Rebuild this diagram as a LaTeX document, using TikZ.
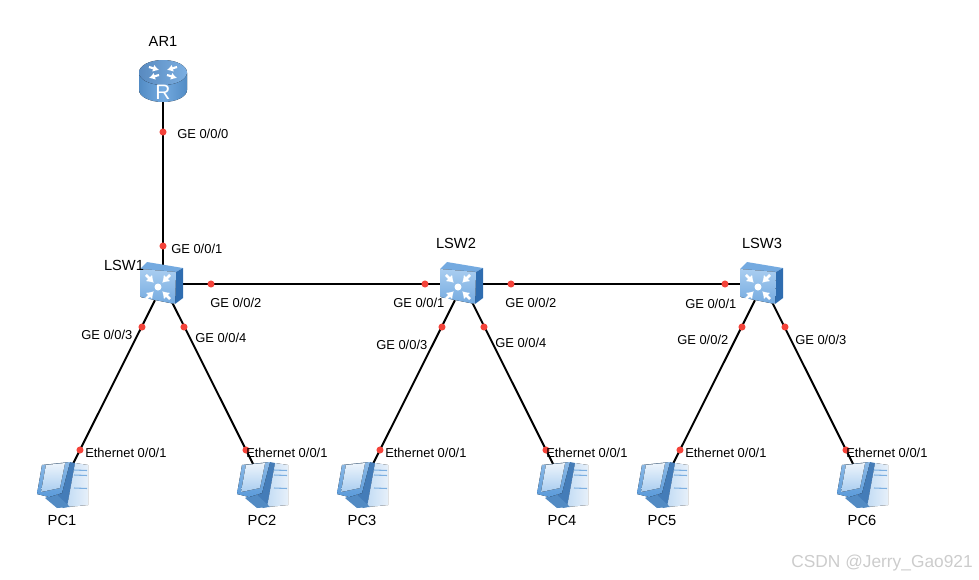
\documentclass[tikz,border=0pt]{standalone}
\usepackage{fontspec}
\setmainfont{Liberation Sans}
\usetikzlibrary{arrows.meta}
\definecolor{portred}{HTML}{F4433A}
\definecolor{iconblue}{HTML}{5B9BDA}
\definecolor{icondark}{HTML}{2F6DB0}
\definecolor{iconlight}{HTML}{A9CDF0}
\tikzset{
    link/.style={line width=1.5pt, black},
    port/.style={circle, fill=portred, inner sep=0pt, minimum size=5.3pt},
    portlabel/.style={anchor=west, inner sep=0pt, font=\fontsize{9.7}{11}\selectfont},
    devlabel/.style={inner sep=0pt, font=\fontsize{11}{12}\selectfont},
    routerbox/.style={inner sep=0pt, minimum width=30pt, minimum height=24pt},
    switchbox/.style={inner sep=0pt, minimum width=24pt, minimum height=24pt},
    pcbox/.style={inner sep=0pt, minimum width=20pt, minimum height=28pt},
    routericon/.pic={
        % body and top
        \fill[left color=iconblue!90!black, right color=iconblue!90!black, middle color=iconblue!85!white]
            (-24,-9) -- (-24,8) arc[start angle=180, end angle=0, x radius=24, y radius=12] -- (24,-9) -- cycle;
        \fill[left color=icondark!80, right color=iconblue!80] (0,-9.5) ellipse[x radius=24, y radius=12.5];
        % arrows on top
        \foreach \a/\b/\c/\d in {-14/-15/-4/-12, 4/-7/14/-4, 14/-15/4/-12, -4/-7/-14/-4} {
            \draw[white, line width=1.6pt, -{Latex[length=4.5pt,width=5.5pt]}] (\a,\b) -- (\c,\d);
        }
        \node[white, inner sep=0pt, font=\fontsize{15.7}{16}\selectfont] (-rtext) at (0,10.5) {R};
    },
    switchicon/.pic={
        \fill[iconblue!85] (-20,-16) -- (-13,-23) -- (23,-17) -- (16,-13) -- cycle;
        \fill[icondark] (16,-13) -- (23,-17) -- (23,13) -- (15,19) -- cycle;
        \fill[top color=iconlight, bottom color=iconblue!85, rounded corners=1pt]
            (-20,-16) -- (16,-13) -- (15,19) -- (-20,12) -- cycle;
        \foreach \a in {45,135,225,315} {
            \draw[white, line width=1.9pt, {Latex[length=5pt,width=7pt]}-] (-2,2) ++(\a:6) -- ++(\a:11);
        }
        \fill[white] (-2,2) circle (3.5);
    },
    pcicon/.pic={
        % tower
        \fill[left color=iconlight!70, right color=white!85!iconblue] (12,-21) -- (25,-19) -- (25,21) -- (4,23) -- cycle;
        \foreach \y in {-14,-9,4} { \draw[iconblue!80, line width=0.8pt] (11,\y) -- (24,\y+0.5); }
        % stand and back
        \fill[icondark!90] (7,-22) -- (12,-21) -- (4,23) -- (0,24) -- (-6,12) -- cycle;
        \fill[iconblue!90!black] (-18,14) -- (-8,9) -- (7,23) -- (-6,24) -- cycle;
        % monitor
        \fill[top color=iconblue!70, bottom color=iconblue] (-26,10) -- (-21,-19) -- (7,-22) -- (-1,9) -- (-14,13) -- cycle;
        \fill[top color=white!80!iconlight, bottom color=iconlight] (-22,8) -- (-17,-19) -- (2,-21) -- (-3,4) -- cycle;
    }
}
\begin{document}
\begin{tikzpicture}[x=0.75pt, y=-0.75pt]
    \useasboundingbox (0,0) rectangle (979,579);

    % devices
    \node[routerbox] (AR1) at (163,82) {};
    \foreach \name/\x in {LSW1/163, LSW2/463, LSW3/763} { \node[switchbox] (\name) at (\x,284) {}; }
    \foreach \name/\x in {PC1/63, PC2/263, PC3/363, PC4/563, PC5/663, PC6/863} { \node[pcbox] (\name) at (\x,484) {}; }

    % links
    \draw[link] (AR1) -- (LSW1);
    \draw[link] (LSW1) -- (LSW2);
    \draw[link] (LSW2) -- (LSW3);
    \foreach \sw/\pc in {LSW1/PC1, LSW1/PC2, LSW2/PC3, LSW2/PC4, LSW3/PC5, LSW3/PC6} { \draw[link] (\sw) -- (\pc); }

    % icons
    \pic at (AR1) {routericon};
    \foreach \name in {LSW1, LSW2, LSW3} { \pic[shift={(-3,1)}] at (\name) {switchicon}; }
    \foreach \name in {PC1, PC2, PC3, PC4, PC5, PC6} { \pic at (\name) {pcicon}; }

    % ports
    \foreach \name/\x/\y in {pa/163/132, pb/163/246, pc/211/284, pd/142/327, pe/184/327, pf/80/450, pg/246/450,
        ph/425/284, pi/511/284, pj/442/327, pk/484/327, pl/380/450, pm/546/450,
        pn/725/284, po/742/327, pp/785/327, pq/680/450, pr/846/450} {
        \node[port] (\name) at (\x,\y) {};
    }

    % port labels
    \foreach \name/\x/\y/\txt in {la/177/134/{GE 0/0/0}, lb/171/249/{GE 0/0/1}, lc/210/303/{GE 0/0/2}, ld/81/335/{GE 0/0/3}, le/195/338/{GE 0/0/4},
        lf/393/303/{GE 0/0/1}, lg/505/303/{GE 0/0/2}, lh/376/345/{GE 0/0/3}, li/495/343/{GE 0/0/4},
        lj/685/304/{GE 0/0/1}, lk/677/340/{GE 0/0/2}, ll/795/340/{GE 0/0/3}} {
        \node[portlabel] (\name) at (\x,\y) {\txt};
    }
    \foreach \name/\x in {ea/85, eb/246, ec/385, ed/546, ee/685, ef/846} { \node[portlabel] (\name) at (\x,453) {Ethernet 0/0/1}; }

    % device labels
    \node[devlabel] (tAR1) at (163,41) {AR1};
    \node[devlabel] (tLSW1) at (124,265) {LSW1};
    \node[devlabel] (tLSW2) at (456,243) {LSW2};
    \node[devlabel] (tLSW3) at (762,243) {LSW3};
    \foreach \i/\x in {1/62, 2/262, 3/362, 4/562, 5/662, 6/862} { \node[devlabel] (tPC\i) at (\x,520) {PC\i}; }

    \node[anchor=east, inner sep=0pt, gray!40, font=\fontsize{13}{15}\selectfont] (mark) at (973,563) {CSDN @Jerry\_Gao921};
\end{tikzpicture}
\end{document}
